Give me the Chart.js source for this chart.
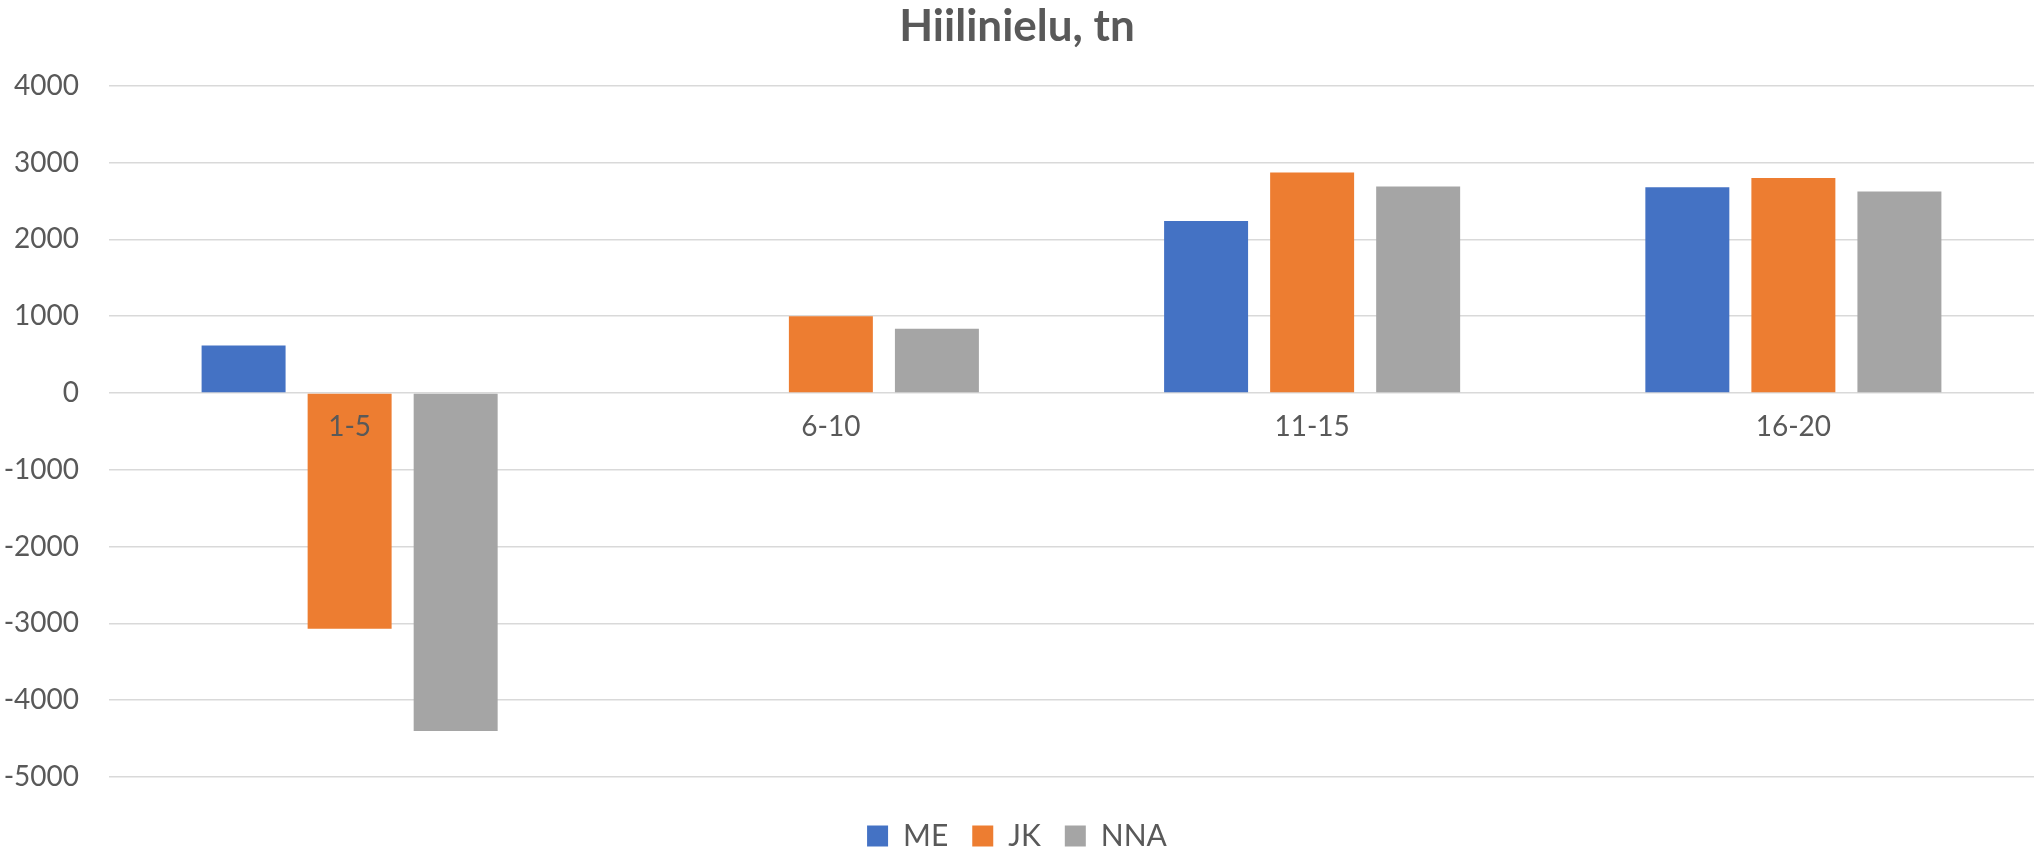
<!DOCTYPE html>
<html>
<head>
<meta charset="utf-8">
<script src="https://cdn.jsdelivr.net/npm/chart.js@4/dist/chart.umd.min.js"></script>
<style>
  body { margin: 0; background: #fff; }
  #wrap { width: 2034px; height: 861px; }
</style>
</head>
<body>
<div id="wrap"><canvas id="myChart"></canvas></div>
<script>
// data
var categories = ["1-5", "6-10", "11-15", "16-20"];
var seriesNames = ["ME", "JK", "NNA"];
var meValues = [620, 0, 2240, 2680];
var jkValues = [-3070, 1000, 2870, 2800];
var nnaValues = [-4400, 835, 2690, 2625];
var yTicks = [4000, 3000, 2000, 1000, 0, -1000, -2000, -3000, -4000, -5000];

var barColors = ["#4472C4", "#ED7D31", "#A5A5A5"];
var textColor = "#595959";
var fontName = "Lato, 'Open Sans', sans-serif";

new Chart("myChart", {
  type: "bar",
  data: {
    labels: categories,
    datasets: [
      { label: seriesNames[0], data: meValues, backgroundColor: barColors[0] },
      { label: seriesNames[1], data: jkValues, backgroundColor: barColors[1] },
      { label: seriesNames[2], data: nnaValues, backgroundColor: barColors[2] }
    ]
  },
  options: {
    responsive: true,
    maintainAspectRatio: false,
    animation: false,
    categoryPercentage: 0.661,
    barPercentage: 0.792,
    layout: { padding: { top: 0, right: 0, bottom: 0, left: 0 } },
    plugins: {
      title: {
        display: true,
        text: "Hiilinielu, tn",
        color: textColor,
        font: { family: fontName, size: 44, weight: "bold" },
        padding: { top: 0, bottom: 33 }
      },
      legend: {
        position: "bottom",
        title: { display: true, text: "", font: { size: 10 }, padding: 4 },
        labels: {
          color: textColor,
          font: { family: fontName, size: 30 },
          boxWidth: 21,
          boxHeight: 21,
          padding: 24
        }
      },
      tooltip: { enabled: false }
    },
    scales: {
      x: {
        position: { y: 0 },
        grid: { display: false },
        border: { display: false },
        ticks: {
          z: 1,
          color: textColor,
          font: { family: fontName, size: 28 },
          padding: 9
        }
      },
      y: {
        min: -5000,
        max: 4000,
        afterFit: function (scale) { scale.width = 109; },
        afterBuildTicks: function (scale) {
          scale.ticks = yTicks.map(function (v) { return { value: v }; });
        },
        grid: { color: "#d9d9d9", lineWidth: 1.5, drawTicks: false },
        border: { display: false },
        ticks: {
          color: textColor,
          font: { family: fontName, size: 28 },
          padding: 30,
          callback: function (value) { return String(value); }
        }
      }
    }
  }
});
</script>
</body>
</html>
